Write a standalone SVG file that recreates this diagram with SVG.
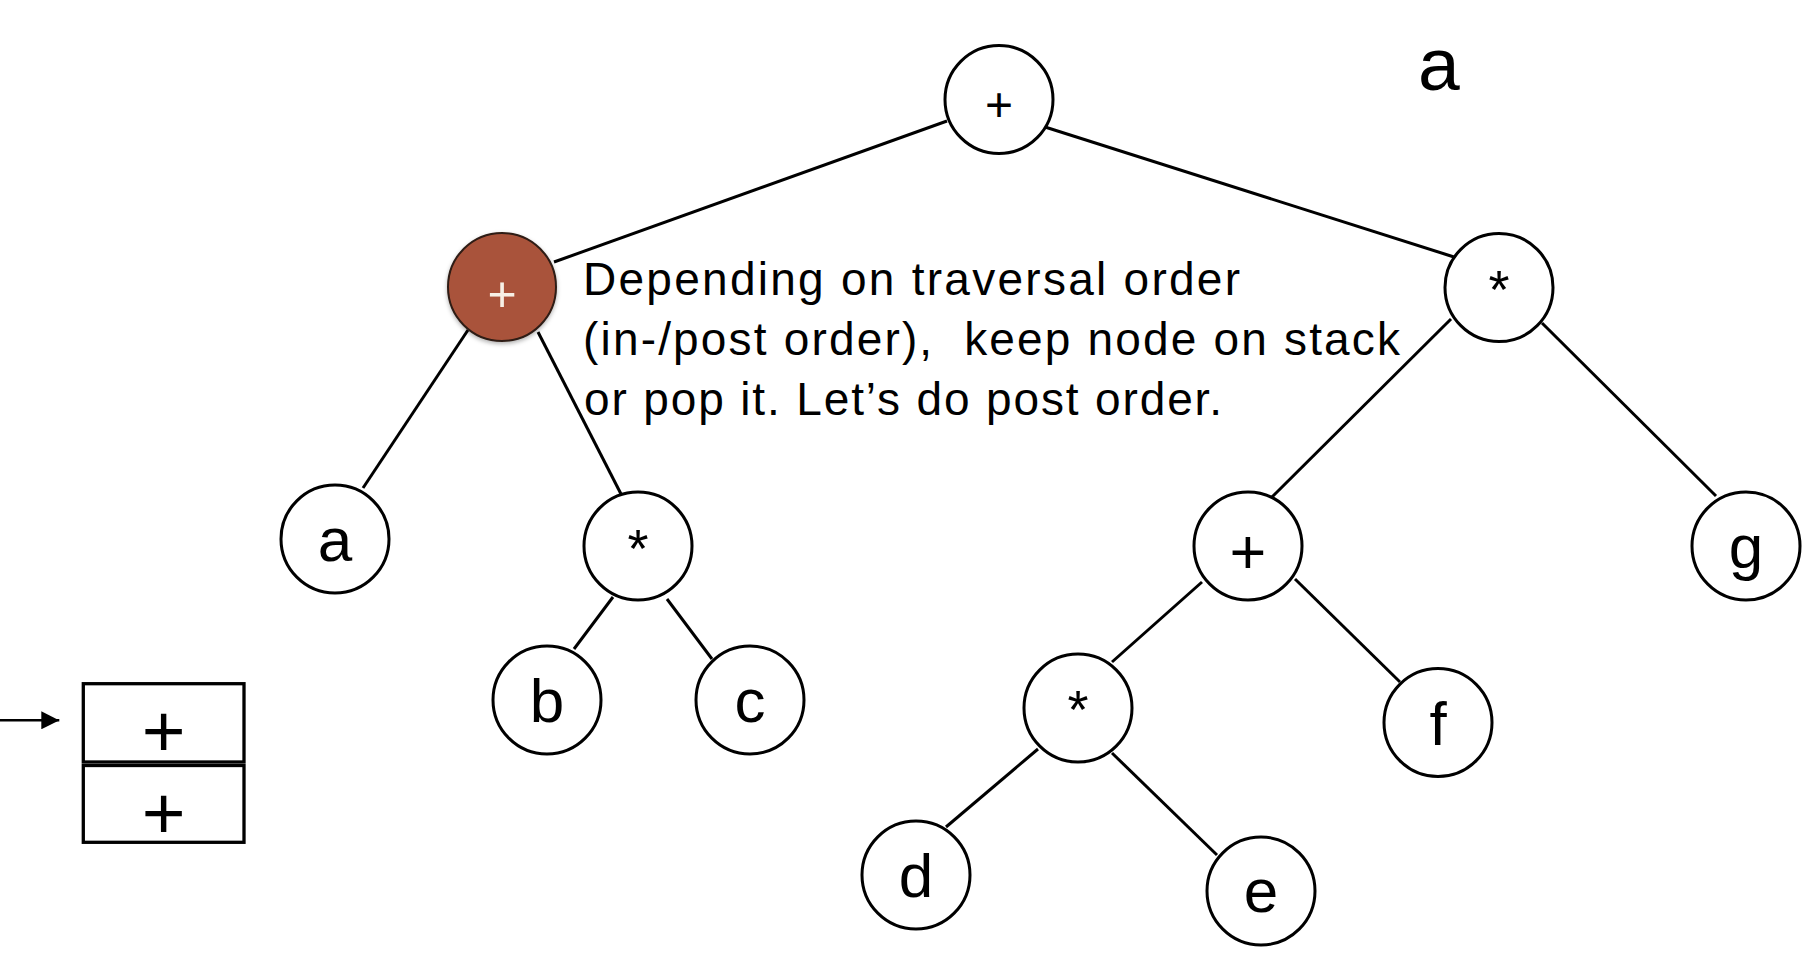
<svg xmlns="http://www.w3.org/2000/svg" width="1818" height="964" viewBox="0 0 1818 964">
<style>
  .edge { stroke:#000; stroke-width:3; fill:none; }
  .node circle { fill:#fff; stroke:#000; stroke-width:3; }
  .node text { font-family:"Liberation Sans", Arial, sans-serif; fill:#000; text-anchor:middle; }
  .leaf { font-size:62px; }
  .opS { font-size:48px; }
  .opL { font-size:63px; }
  .star { font-size:54px; }
  .note { font-family:"Liberation Sans", Arial, sans-serif; font-size:46px; fill:#000; }
  .stack rect { fill:#fff; stroke:#000; stroke-width:3.3; }
  .stack text { font-family:"Liberation Sans", Arial, sans-serif; font-size:75px; text-anchor:middle; fill:#000; }
</style>
<defs>
  <marker id="arrow" viewBox="0 0 18 18" refX="18" refY="9" markerWidth="18" markerHeight="18" markerUnits="userSpaceOnUse" orient="auto">
    <path d="M0,0 L18,9 L0,18 z" fill="#000"/>
  </marker>
  <filter id="shadow" x="-30%" y="-30%" width="160%" height="160%">
    <feDropShadow dx="0" dy="2" stdDeviation="2" flood-color="#000" flood-opacity="0.3"/>
  </filter>
</defs>
<rect width="1818" height="964" fill="#fff"/>

<g id="connectors">
  <line class="edge" x1="947" y1="121" x2="554" y2="262"/>
  <line class="edge" x1="1045" y1="127" x2="1454" y2="257"/>
  <line class="edge" x1="468" y1="330" x2="363" y2="488"/>
  <line class="edge" x1="538" y1="332" x2="621" y2="494"/>
  <line class="edge" x1="613" y1="597" x2="574" y2="649"/>
  <line class="edge" x1="667" y1="599" x2="712" y2="659"/>
  <line class="edge" x1="1451" y1="319" x2="1272" y2="497"/>
  <line class="edge" x1="1542" y1="323" x2="1716" y2="496"/>
  <line class="edge" x1="1202" y1="582" x2="1112" y2="662"/>
  <line class="edge" x1="1295" y1="579" x2="1400" y2="682"/>
  <line class="edge" x1="1038" y1="749" x2="946" y2="827"/>
  <line class="edge" x1="1112" y1="753" x2="1217" y2="855"/>
  <line x1="0" y1="720.3" x2="59.3" y2="720.3" stroke="#000" stroke-width="2.4" marker-end="url(#arrow)"/>
</g>

<g id="node-root" class="node">
  <circle cx="999" cy="99.5" r="54"/>
  <text class="opS" x="999" y="121">+</text>
</g>
<g id="node-plus-left" class="node">
  <circle cx="502" cy="287" r="54" style="fill:#A9533A;stroke:#2e1c14;stroke-width:2" filter="url(#shadow)"/>
  <text x="502" y="311" style="font-size:50px;fill:#f7f0e6">+</text>
</g>
<g id="node-star-right" class="node">
  <circle cx="1499" cy="287.5" r="54"/>
  <text class="star" x="1499" y="308">*</text>
</g>
<g id="node-a" class="node">
  <circle cx="335" cy="539" r="54"/>
  <text class="leaf" x="335" y="561">a</text>
</g>
<g id="node-star-bc" class="node">
  <circle cx="638" cy="546" r="54"/>
  <text class="star" x="638" y="567">*</text>
</g>
<g id="node-b" class="node">
  <circle cx="547" cy="700" r="54"/>
  <text class="leaf" x="547" y="722">b</text>
</g>
<g id="node-c" class="node">
  <circle cx="750" cy="700" r="54"/>
  <text class="leaf" x="750" y="722">c</text>
</g>
<g id="node-plus-right" class="node">
  <circle cx="1248" cy="546" r="54"/>
  <text class="opL" x="1248" y="574">+</text>
</g>
<g id="node-g" class="node">
  <circle cx="1746" cy="546" r="54"/>
  <text class="leaf" x="1746" y="568">g</text>
</g>
<g id="node-star-de" class="node">
  <circle cx="1078" cy="708" r="54"/>
  <text class="star" x="1078" y="728">*</text>
</g>
<g id="node-f" class="node">
  <circle cx="1438" cy="722.5" r="54"/>
  <text class="leaf" x="1438" y="744.5">f</text>
</g>
<g id="node-d" class="node">
  <circle cx="916" cy="875" r="54"/>
  <text class="leaf" x="916" y="897">d</text>
</g>
<g id="node-e" class="node">
  <circle cx="1261" cy="891" r="54"/>
  <text class="leaf" x="1261" y="912">e</text>
</g>

<g id="note">
  <text class="note" x="583" y="295" textLength="657" lengthAdjust="spacing">Depending on traversal order</text>
  <text class="note" x="583" y="355" textLength="817" lengthAdjust="spacing" xml:space="preserve">(in-/post order),  keep node on stack</text>
  <text class="note" x="584" y="415" textLength="638" lengthAdjust="spacing">or pop it. Let’s do post order.</text>
</g>

<g id="label-a">
  <text x="1418" y="90" style="font-family:'Liberation Sans', Arial, sans-serif;font-size:75px;fill:#000">a</text>
</g>

<g id="stack" class="stack">
  <rect x="83.3" y="683.7" width="160.7" height="78.3"/>
  <rect x="83.3" y="765.5" width="160.7" height="76.8"/>
  <text x="163.6" y="757">+</text>
  <text x="163.6" y="838.7">+</text>
</g>
</svg>
